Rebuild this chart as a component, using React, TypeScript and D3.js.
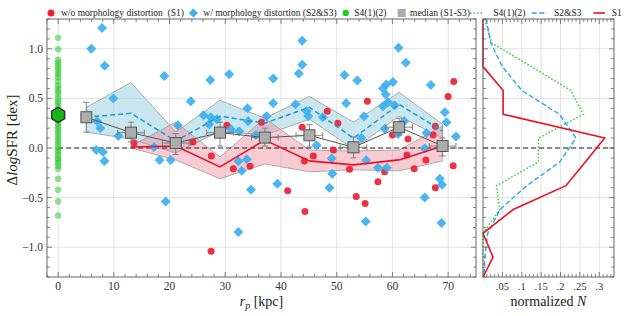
import React from 'react';
import * as d3 from 'd3';

// ---------------- data ----------------
const s1X = [13.6, 24.2, 27.5, 30.3, 36.5, 43.8, 45.8, 48.3, 50.2, 55.5, 60.0, 62.8, 67.3, 67.7, 70.0, 71.0,
  31.45, 34.45, 41.2, 44.3, 27.45, 44.2, 49.4, 52.3, 58.6, 57.4, 53.5, 55.1, 62.6, 63.9, 66.0, 67.7, 70.9];
const s1Y = [0.05, 0.06, -0.08, 0.23, 0.26, 0.21, -0.08, 0.37, 0.25, 0.47, 0.13, 0.09, 0.13, 0.22, 0.52, 0.67,
  -0.21, -0.185, -0.43, -0.64, -1.04, -0.13, -0.02, -0.215, -0.24, -0.34, -0.49, -0.56, -0.07, -0.21, -0.12, -0.40, -0.18];

const s23X = [7.87, 5.95, 8.36, 19.06, 9.9, 23.8, 6.98, 7.57, 10.8, 17.2, 6.85, 8.05, 8.3, 18.2, 20.2, 19.3,
  27.3, 30.7, 38.6, 43.8, 43.8, 43.2, 26.1, 27.4, 28.5, 27.1, 31.0, 32.5, 34.0, 34.1, 37.4, 38.6, 42.6, 44.6, 44.9, 47.5, 46.4, 35.5, 21.5,
  61.1, 62.4, 51.4, 53.7, 60.1, 58.9, 58.3, 58.8, 66.9, 51.7, 54.9, 58.3, 59.2, 60.4, 69.4, 69.7, 71.4, 58.6, 61.0, 62.1, 66.1, 54.4,
  55.3, 57.4, 59.0, 49.1, 49.2, 48.7, 55.2, 65.8, 68.5, 68.9, 68.8, 65.8,
  32.35, 33.85, 32.95, 34.6, 39.35, 32.35];
const s23Y = [1.21, 1.0, 0.83, 0.726, 0.498, 0.47, 0.27, 0.2, 0.12, 0.01, -0.02, -0.04, -0.13, -0.12, -0.12, -0.54,
  0.685, 0.743, 0.70, 1.08, 0.84, 0.75, 0.33, 0.31, 0.29, 0.24, 0.19, 0.17, 0.40, 0.27, 0.32, 0.45, 0.44, 0.37, 0.32, 0.31, 0.027, 0.13, 0.23,
  1.01, 0.86, 0.736, 0.68, 0.665, 0.64, 0.60, 0.54, 0.635, 0.45, 0.32, 0.42, 0.46, 0.43, 0.36, 0.26, 0.115, 0.195, 0.14, 0.27, 0.15, 0.10,
  -0.124, -0.20, -0.20, -0.107, -0.26, -0.40, -0.74, -0.50, -0.31, -0.37, -0.756, -0.006,
  -0.134, -0.114, -0.23, -0.42, -0.36, -0.846];

const s4Y = [1.11, 0.995, 0.89, 0.86, 0.83, 0.80, 0.77, 0.74, 0.71, 0.67, 0.63, 0.60, 0.57, 0.54, 0.50, 0.47, 0.44,
  0.41, 0.38, 0.35, 0.31, 0.28, 0.25, 0.22, 0.19, 0.16, 0.13, 0.10, 0.07, 0.04, 0.01, -0.02, -0.04, -0.07, -0.10,
  -0.12, -0.15, -0.18, -0.21, -0.31, -0.42, -0.54, -0.68];
const s4Median = 0.333;

const medX = [5.06, 13.08, 21.1, 29.05, 37.1, 45.1, 53.0, 61.2, 69.0];
const medY = [0.31, 0.155, 0.05, 0.155, 0.105, 0.128, 0.007, 0.21, 0.02];
const medLo = [0.16, 0.06, -0.065, 0.02, 0.02, 0.01, -0.1, 0.13, -0.08];
const medHi = [0.46, 0.26, 0.145, 0.26, 0.2, 0.235, 0.11, 0.3, 0.1];
const medXerr = [0.8, 2.4, 2.4, 2.4, 2.4, 2.4, 2.4, 2.4, 2.4];

const band23Up = [0.41, 0.66, 0.16, 0.48, 0.30, 0.52, 0.26, 0.56, 0.24];
const band23Lo = [0.16, 0.09, -0.05, 0.17, 0.13, 0.29, -0.01, 0.32, 0.1];
const line23Y = [0.31, 0.35, 0.07, 0.32, 0.25, 0.41, 0.10, 0.44, 0.17];

const band1X = [13.08, 21.1, 29.05, 37.1, 45.1, 53.0, 61.2, 69.0];
const band1Up = [0.02, 0.26, -0.09, 0.30, -0.02, -0.03, -0.02, 0.22];
const band1Lo = [0.0, -0.12, -0.31, -0.16, -0.24, -0.22, -0.23, -0.13];
const line1Y = [0.01, 0.02, -0.19, 0.08, -0.13, -0.17, -0.12, 0.02];

const histY = [1.3, 1.06, 0.82, 0.58, 0.34, 0.10, -0.14, -0.38, -0.62, -0.86, -1.10, -1.3];
const histS1 = [0, 0, 0, 0.052, 0.052, 0.314, 0.264, 0.214, 0.078, 0, 0.026, 0];
const histS23 = [0.008, 0.02, 0.05, 0.1, 0.197, 0.24, 0.198, 0.113, 0.044, 0.012, 0.005, 0.002];
const histS4 = [0.005, 0.022, 0.125, 0.226, 0.259, 0.143, 0.143, 0.035, 0.043, 0, 0, 0];

const yTicks = [-1.0, -0.5, 0.0, 0.5, 1.0];
const xTicks = [0, 10, 20, 30, 40, 50, 60, 70];
const nTicks = [0.05, 0.1, 0.15, 0.2, 0.25, 0.3];
const nTickLabels = ['.05', '.1', '.15', '.2', '.25', '.3'];

// ---------------- chart ----------------
const FONT = "'Liberation Serif', 'Times New Roman', Times, 'DejaVu Serif', serif";
const AX = '#666';
const GRID = '#dcdcdc';
const TS = { fontFamily: FONT } as React.CSSProperties;

export default function App() {
  const M = { l: 47, r: 476, t: 19, b: 277 };
  const R = { l: 483, r: 614 };
  const x = d3.scaleLinear().domain([-2, 75]).range([M.l, M.r]);
  const y = d3.scaleLinear().domain([-1.3, 1.3]).range([M.b, M.t]);
  const xn = d3.scaleLinear().domain([0, 0.338]).range([R.l, R.r]);

  const yMinor = d3.range(-13, 14).map((d) => d / 10);
  const xMinor = d3.range(-2, 76, 2);
  const nMinor = d3.range(1, 34).map((d) => d / 100);

  const area23 = d3.area<number>().x((_, i) => x(medX[i])).y0((_, i) => y(band23Lo[i])).y1((d) => y(d));
  const area1 = d3.area<number>().x((_, i) => x(band1X[i])).y0((_, i) => y(band1Lo[i])).y1((d) => y(d));
  const line23 = d3.line<number>().x((_, i) => x(medX[i])).y((d) => y(d));
  const line1 = d3.line<number>().x((_, i) => x(band1X[i])).y((d) => y(d));
  const medLine = d3.line<number>().x((_, i) => x(medX[i])).y((d) => y(d));
  const histLine = d3.line<number>().x((d) => xn(d)).y((_, i) => y(histY[i]));

  const ticksFor = (x0: number, x1: number, key: string) => (
    <g key={key} stroke={AX} strokeWidth={0.8}>
      {yMinor.map((v) => {
        const major = Math.abs(v * 2 - Math.round(v * 2)) < 1e-6;
        const L = major ? 5 : 3;
        return (
          <g key={v}>
            <line x1={x0} x2={x0 + L} y1={y(v)} y2={y(v)} />
            <line x1={x1} x2={x1 - L} y1={y(v)} y2={y(v)} />
          </g>
        );
      })}
    </g>
  );

  const hex = (cx: number, cy: number, r: number) =>
    d3.range(6).map((k) => {
      const a = (Math.PI / 3) * k + Math.PI / 6;
      return [cx + r * Math.cos(a), cy + r * Math.sin(a)].join(',');
    }).join(' ');

  const diamond = (cx: number, cy: number, r: number) =>
    `M${cx},${cy - r}L${cx + r},${cy}L${cx},${cy + r}L${cx - r},${cy}Z`;

  const legendY = 13;

  return (
    <svg width={630} height={316} style={{ position: 'absolute', left: 0, top: 0, background: '#fff', fontFamily: FONT }}>
      <rect x={0} y={0} width={630} height={316} fill="#fff" />
      {/* grids */}
      <g stroke={GRID} strokeWidth={0.8}>
        {xTicks.map((v) => <line key={'gx' + v} x1={x(v)} x2={x(v)} y1={M.t} y2={M.b} />)}
        {yTicks.map((v) => <line key={'gy' + v} x1={M.l} x2={M.r} y1={y(v)} y2={y(v)} />)}
        {nTicks.map((v) => <line key={'gn' + v} x1={xn(v)} x2={xn(v)} y1={M.t} y2={M.b} />)}
        {yTicks.map((v) => <line key={'gny' + v} x1={R.l} x2={R.r} y1={y(v)} y2={y(v)} />)}
      </g>

      {/* bands */}
      <path d={area23(band23Up) || ''} fill="#add8e6" fillOpacity={0.65} stroke="#999" strokeWidth={0.8} />
      <path d={area1(band1Up) || ''} fill="#f08090" fillOpacity={0.4} stroke="#999" strokeWidth={0.8} />

      {/* zero line */}
      <line x1={x(0)} x2={M.r} y1={y(0)} y2={y(0)} stroke="#222" strokeWidth={1.1} strokeDasharray="5,3" />

      {/* S4 points */}
      {s4Y.map((v, i) => <circle key={'g' + i} cx={x(0)} cy={y(v)} r={3.3} fill="#22c822" fillOpacity={0.5} />)}
      {/* S1 points */}
      {s1X.map((v, i) => <circle key={'r' + i} cx={x(v)} cy={y(s1Y[i])} r={3.5} fill="#ee2035" fillOpacity={0.92} />)}
      {/* S2&S3 points */}
      {s23X.map((v, i) => <path key={'b' + i} d={diamond(x(v), y(s23Y[i]), 5)} fill="#3cb0f0" fillOpacity={0.92} />)}

      {/* median lines */}
      <path d={line23(line23Y) || ''} fill="none" stroke="#1a9ad6" strokeWidth={1.5} strokeDasharray="5,3" />
      <path d={line1(line1Y) || ''} fill="none" stroke="#ee1122" strokeWidth={1.6} />
      <path d={medLine(medY) || ''} fill="none" stroke="#555" strokeWidth={1} />

      {/* error bars + squares */}
      {medX.map((v, i) => (
        <g key={'m' + i} stroke="#777" strokeWidth={0.9}>
          <line x1={x(v)} x2={x(v)} y1={y(medLo[i])} y2={y(medHi[i])} />
          <line x1={x(v) - 3} x2={x(v) + 3} y1={y(medLo[i])} y2={y(medLo[i])} />
          <line x1={x(v) - 3} x2={x(v) + 3} y1={y(medHi[i])} y2={y(medHi[i])} />
          <line x1={x(v - medXerr[i])} x2={x(v + medXerr[i])} y1={y(medY[i])} y2={y(medY[i])} />
          <line x1={x(v - medXerr[i])} x2={x(v - medXerr[i])} y1={y(medY[i]) - 3} y2={y(medY[i]) + 3} />
          <line x1={x(v + medXerr[i])} x2={x(v + medXerr[i])} y1={y(medY[i]) - 3} y2={y(medY[i]) + 3} />
          <rect x={x(v) - 5.5} y={y(medY[i]) - 5.5} width={11} height={11} fill="#acacac" stroke="#555" strokeWidth={1} />
        </g>
      ))}

      {/* S4 median hexagon */}
      <polygon points={hex(x(0), y(s4Median), 7.5)} fill="#12b812" stroke="#333" strokeWidth={1.5} />

      {/* right panel */}
      <line x1={R.l} x2={R.r} y1={y(0)} y2={y(0)} stroke="#222" strokeWidth={1.1} strokeDasharray="5,3" />
      <path d={histLine(histS4) || ''} fill="none" stroke="#33cc33" strokeWidth={1.5} strokeDasharray="1.5,2" />
      <path d={histLine(histS23) || ''} fill="none" stroke="#2aa5e8" strokeWidth={1.4} strokeDasharray="5,2.5" />
      <path d={histLine(histS1) || ''} fill="none" stroke="#ee1122" strokeWidth={1.6} />

      {/* frames & ticks */}
      <rect x={M.l} y={M.t} width={M.r - M.l} height={M.b - M.t} fill="none" stroke={AX} strokeWidth={1} />
      <rect x={R.l} y={M.t} width={R.r - R.l} height={M.b - M.t} fill="none" stroke={AX} strokeWidth={1} />
      {ticksFor(M.l, M.r, 'tm')}
      {ticksFor(R.l, R.r, 'tr')}
      <g stroke={AX} strokeWidth={0.8}>
        {xMinor.map((v) => {
          const L = v % 10 === 0 ? 5 : 3;
          return (
            <g key={'xm' + v}>
              <line x1={x(v)} x2={x(v)} y1={M.b} y2={M.b - L} />
              <line x1={x(v)} x2={x(v)} y1={M.t} y2={M.t + L} />
            </g>
          );
        })}
        {nMinor.map((v) => {
          const L = Math.abs(v * 20 - Math.round(v * 20)) < 1e-6 ? 5 : 3;
          return (
            <g key={'nm' + v}>
              <line x1={xn(v)} x2={xn(v)} y1={M.b} y2={M.b - L} />
              <line x1={xn(v)} x2={xn(v)} y1={M.t} y2={M.t + L} />
            </g>
          );
        })}
      </g>

      {/* tick labels */}
      <g fontSize={11.5} fill="#333">
        {yTicks.map((v) => (
          <text key={'yl' + v} style={TS} x={M.l - 4} y={y(v)} dy="0.35em" textAnchor="end">
            {v < 0 ? '\u2212' + Math.abs(v).toFixed(1) : v.toFixed(1)}
          </text>
        ))}
        {xTicks.map((v) => (
          <text key={'xl' + v} style={TS} x={x(v)} y={M.b + 13} textAnchor="middle">{v}</text>
        ))}
      </g>
      <g fontSize={10.5} fill="#333">
        {nTicks.map((v, i) => (
          <text key={'nl' + v} style={TS} x={xn(v)} y={M.b + 13} textAnchor="middle">{nTickLabels[i]}</text>
        ))}
      </g>

      {/* axis labels */}
      <text style={TS} x={(M.l + M.r) / 2} y={306} textAnchor="middle" fontSize={14} fill="#222">
        <tspan fontStyle="italic">r</tspan>
        <tspan fontStyle="italic" fontSize={10} dy={3}>p</tspan>
        <tspan dy={-3}> [kpc]</tspan>
      </text>
      <text style={TS} x={(R.l + R.r) / 2} y={306} textAnchor="middle" fontSize={14} fill="#222">
        normalized <tspan fontStyle="italic">N</tspan>
      </text>
      <text style={TS} transform={`translate(17,${(M.t + M.b) / 2 - 8}) rotate(-90)`} textAnchor="middle" fontSize={15} fill="#222">
        Δ<tspan fontStyle="italic">log</tspan>SFR [dex]
      </text>

      {/* legend */}
      <g fontSize={9.5} fill="#222">
        <circle cx={51} cy={legendY} r={3.5} fill="#ee2035" />
        <text style={{ ...TS, whiteSpace: 'pre' }} x={61} y={legendY + 3}>{'w/o morphology distortion  (S1)'}</text>
        <path d={diamond(193.3, legendY, 4.5)} fill="#3cb0f0" />
        <text style={TS} x={203.3} y={legendY + 3}>w/ morphology distortion (S2&amp;S3)</text>
        <circle cx={345.7} cy={legendY} r={3.2} fill="#22cc22" />
        <text style={TS} x={354.3} y={legendY + 3}>S4(1)(2)</text>
        <rect x={397.7} y={legendY - 4} width={8} height={8} fill="#acacac" />
        <text style={TS} x={410} y={legendY + 3}>median (S1-S3)</text>
        <line x1={470} x2={484} y1={legendY} y2={legendY} stroke="#33cc33" strokeWidth={1.5} strokeDasharray="1.5,2" />
        <text style={TS} x={493.3} y={legendY + 3}>S4(1)(2)</text>
        <line x1={531.7} x2={547} y1={legendY} y2={legendY} stroke="#2aa5e8" strokeWidth={1.4} strokeDasharray="5,2.5" />
        <text style={TS} x={554} y={legendY + 3}>S2&amp;S3</text>
        <line x1={593.3} x2={605} y1={legendY} y2={legendY} stroke="#ee1122" strokeWidth={1.6} />
        <text style={TS} x={611.7} y={legendY + 3}>S1</text>
      </g>
    </svg>
  );
}
